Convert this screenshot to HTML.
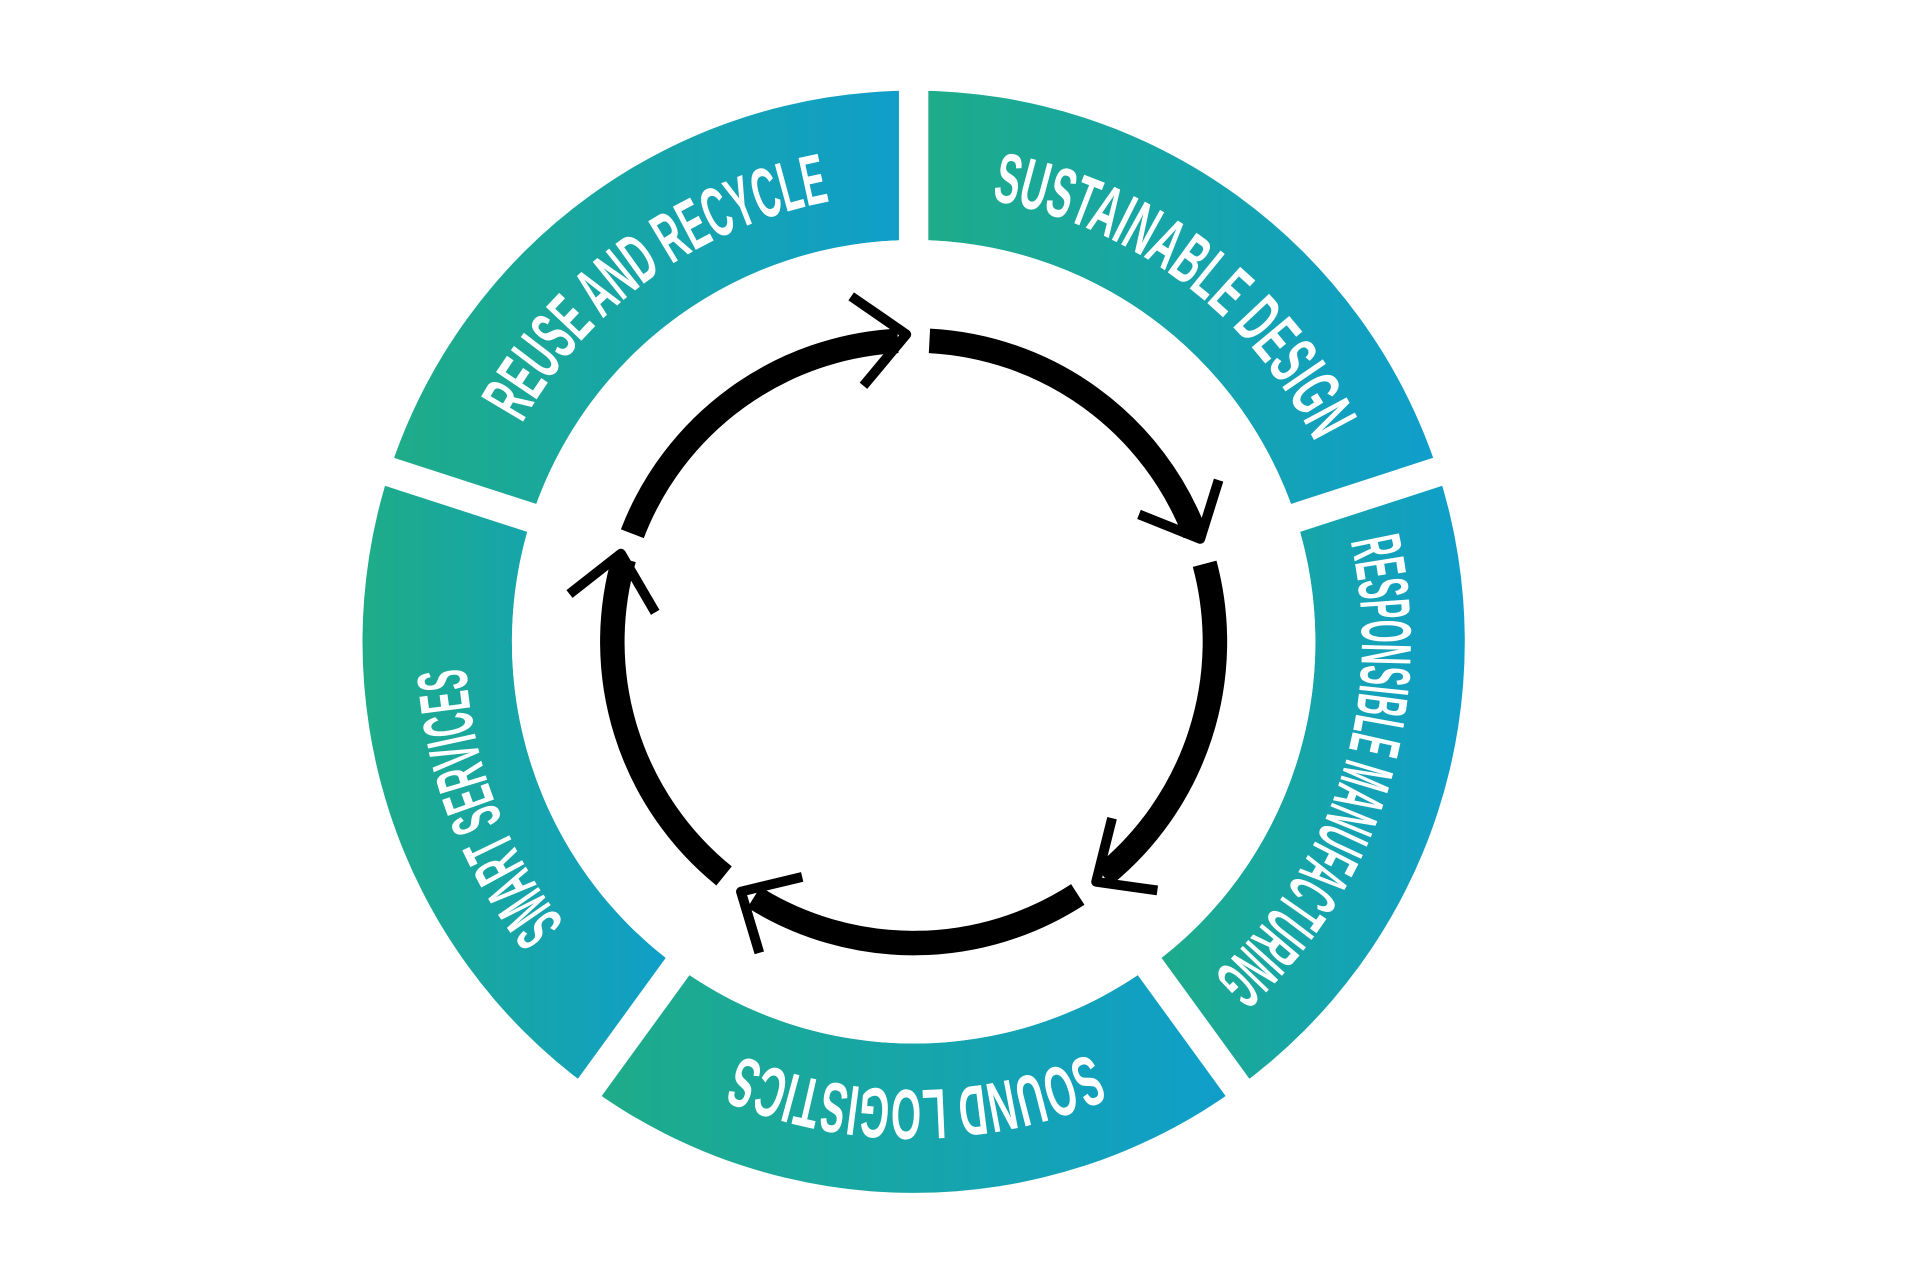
<!DOCTYPE html>
<html><head><meta charset="utf-8"><style>html,body{margin:0;padding:0;background:#fff}svg{display:block}</style></head>
<body>
<svg width="1920" height="1280" viewBox="0 0 1567.7 1045.1" preserveAspectRatio="none" xmlns="http://www.w3.org/2000/svg">
<defs>
<linearGradient id="g" x1="0" y1="0" x2="1" y2="0"><stop offset="0" stop-color="#1eac88"/><stop offset="1" stop-color="#0f9ecb"/></linearGradient>
<path id="tp" d="M746,158 A366,366 0 1 1 746,890 A366,366 0 1 1 746,158"/>
</defs>
<rect width="1570" height="1050" fill="#fff"/>
<g fill="url(#g)">
<path d="M746,74 A450,450 0 0 1 1174,384.95 L1057.96,422.65 A328,328 0 0 0 746,196 Z"/>
<path d="M1174,384.95 A450,450 0 0 1 1010.5,888.05 L938.8,789.35 A328,328 0 0 0 1057.96,422.65 Z"/>
<path d="M1010.5,888.05 A450,450 0 0 1 481.5,888.05 L553.2,789.35 A328,328 0 0 0 938.8,789.35 Z"/>
<path d="M481.5,888.05 A450,450 0 0 1 318,384.95 L434.04,422.65 A328,328 0 0 0 553.2,789.35 Z"/>
<path d="M318,384.95 A450,450 0 0 1 746,74 L746,196 A328,328 0 0 0 434.04,422.65 Z"/>
</g>
<g stroke="#fff" stroke-width="24">
<line x1="746" y1="524" x2="746" y2="60"/>
<line x1="746" y1="524" x2="1190" y2="380"/>
<line x1="746" y1="524" x2="1020" y2="901"/>
<line x1="746" y1="524" x2="472" y2="901"/>
<line x1="746" y1="524" x2="302" y2="380"/>
</g>
<circle cx="746" cy="524" r="328" fill="#fff"/>
<g font-family="'Liberation Sans Narrow','Liberation Sans',sans-serif" font-weight="bold" font-size="58" fill="#fff">
<text><textPath href="#tp" startOffset="63.9" textLength="342" lengthAdjust="spacingAndGlyphs">SUSTAINABLE DESIGN</textPath></text>
<text><textPath href="#tp" startOffset="491.9" textLength="390" lengthAdjust="spacingAndGlyphs">RESPONSIBLE MANUFACTURING</textPath></text>
<text><textPath href="#tp" startOffset="1000.4" textLength="294" lengthAdjust="spacingAndGlyphs">SOUND LOGISTICS</textPath></text>
<text><textPath href="#tp" startOffset="1475.6" textLength="227" lengthAdjust="spacingAndGlyphs">SMART SERVICES</textPath></text>
<text><textPath href="#tp" startOffset="1910" textLength="320" lengthAdjust="spacingAndGlyphs">REUSE AND RECYCLE</textPath></text>
</g>
<g fill="none" stroke="#000" stroke-width="20">
<path d="M758.9,278.3 A246,246 0 0 1 975.7,435.8"/>
<path d="M983.6,460.3 A246,246 0 0 1 900.8,715.2"/>
<path d="M880,730.3 A246,246 0 0 1 615.6,732.6"/>
<path d="M591.2,715.2 A246,246 0 0 1 509.5,456.2"/>
<path d="M516.3,435.8 A246,246 0 0 1 733.1,278.3"/>
</g>
<g fill="none" stroke="#000" stroke-width="8" stroke-linejoin="round">
<polyline points="930,420 980,440 995,392"/>
<polyline points="945,727 895,720 908,668"/>
<polyline points="655,716 605,728 620,778"/>
<polyline points="465,485 507,452 535,500"/>
<polyline points="695,242 740,273 705,315"/>
</g>
</svg>
</body></html>
